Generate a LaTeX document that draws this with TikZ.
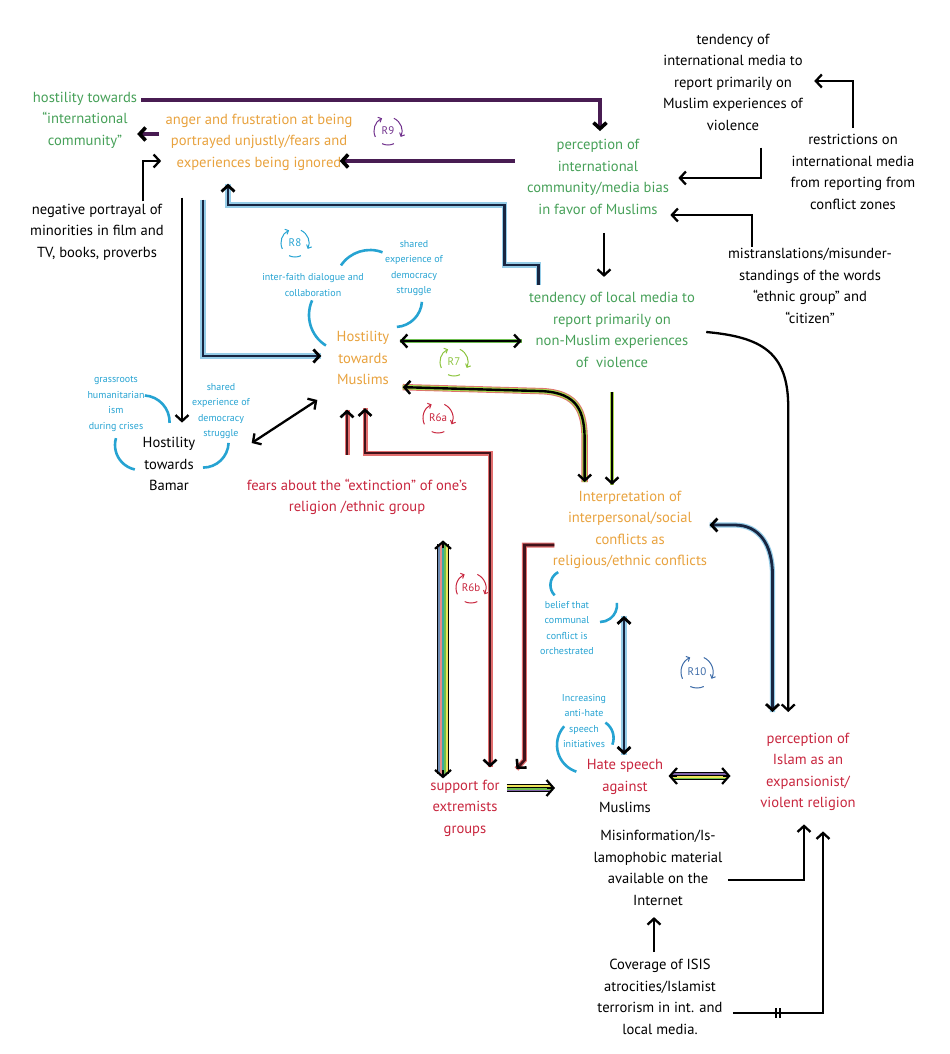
\documentclass[tikz,border=0pt]{standalone}
\usepackage{fontspec}
\setmainfont{PT Sans}
\usetikzlibrary{arrows.meta}
\definecolor{causeGreen}{RGB}{70,160,88}
\definecolor{causeOrange}{RGB}{232,162,62}
\definecolor{causeRed}{RGB}{200,38,62}
\definecolor{noteBlue}{RGB}{38,163,210}
\definecolor{loopPurple}{RGB}{112,48,140}
\definecolor{loopLime}{RGB}{140,196,62}
\definecolor{loopNavy}{RGB}{62,108,168}
\definecolor{linePurple}{RGB}{72,28,82}
\definecolor{lineNavy}{RGB}{24,38,66}
\definecolor{lineMaroon}{RGB}{66,18,26}
\definecolor{shadowBlue}{RGB}{150,205,232}
\definecolor{shadowRed}{RGB}{226,110,110}
\definecolor{shadowLime}{RGB}{170,215,80}
\definecolor{stripeYellow}{RGB}{238,228,90}
\definecolor{stripeGreen}{RGB}{110,190,80}
\definecolor{stripePurple}{RGB}{130,100,170}
\definecolor{stripeTeal}{RGB}{60,170,160}
\definecolor{stripeSlate}{RGB}{110,140,180}
\definecolor{stripePink}{RGB}{230,140,140}
\tikzstyle{causalMap} = [x=0.5pt, y=-0.5pt, >={Straight Barb[length=3pt,width=6.5pt,color=black]}]
\tikzstyle{causeText} = [inner sep=0pt, align=center, font=\fontsize{7.3}{10.75}\selectfont]
\tikzstyle{greenCause} = [causeText, text=causeGreen]
\tikzstyle{orangeCause} = [causeText, text=causeOrange]
\tikzstyle{redCause} = [causeText, text=causeRed]
\tikzstyle{noteText} = [inner sep=0pt, align=center, text=noteBlue, font=\fontsize{5}{7.7}\selectfont]
\tikzstyle{loopText} = [inner sep=0pt, font=\fontsize{5.5}{6}\selectfont]
\tikzstyle{loopArc} = [line width=0.5pt, -{Straight Barb[length=1.4pt,width=2.8pt]}]
\tikzstyle{noteArc} = [noteBlue, line width=1.3pt]
\tikzstyle{plainArrow} = [black, line width=1.15pt, ->]
\tikzstyle{purpleLink} = [linePurple, line width=1.8pt, ->]
\tikzstyle{navyLink} = [lineNavy, line width=1.4pt, ->, preaction={draw=shadowBlue, line width=2.6pt, -}]
\tikzstyle{maroonLink} = [lineMaroon, line width=1.3pt, ->, preaction={draw=shadowRed, line width=2.5pt, -}]
\tikzstyle{limeLink} = [black, line width=1.2pt, ->, preaction={draw=shadowLime, line width=2.4pt, -}]
\tikzstyle{greenLink} = [black, line width=1.2pt, <->, preaction={draw=stripeGreen, line width=2.4pt, -}]
\tikzstyle{fatTip} = [black, line width=1.1pt, -{Straight Barb[length=3.5pt,width=8pt]}]
\newcommand{\loopMark}[5]{
  \node[loopText, text=#4] (#1) at (#2) {#3};
  \draw[#4, loopArc] (#1.center) ++(205:#5) arc[start angle=205, end angle=115, radius=#5];
  \draw[#4, loopArc] (#1.center) ++(65:#5) arc[start angle=65, end angle=-25, radius=#5];
  \draw[#4, loopArc, -] (#1.center) ++(-65:#5) arc[start angle=-65, end angle=-115, radius=#5];
}
\newcommand{\stripeLink}[5]{
  \draw[black, line width=#3, shorten >=2pt, shorten <=2pt] (#1) -- (#2);
  \foreach \col/\off in {#4} {
    \draw[\col, line width=0.8pt, shorten >=2pt, shorten <=2pt, transform canvas={#5=\off pt}] (#1) -- (#2);
  }
}
\begin{document}
\begin{tikzpicture}[causalMap]
\useasboundingbox (0,0) rectangle (949,1054);

% factors
\node[greenCause] (hostInt) at (85,120) {hostility towards\\“international\\community”};
\node[orangeCause] (anger) at (259,142) {anger and frustration at being\\portrayed unjustly/fears and\\experiences being ignored};
\node[greenCause] (percInt) at (598,177) {perception of\\international\\community/media bias\\in favor of Muslims};
\node[causeText] (tendInt) at (733,82) {tendency of\\international media to\\report primarily on\\Muslim experiences of\\violence};
\node[causeText] (restrict) at (853,172) {restrictions on\\international media\\from reporting from\\conflict zones};
\node[causeText] (negPort) at (97,232) {negative portrayal of\\minorities in film and\\TV, books, proverbs};
\node[causeText] (mistrans) at (810,286) {mistranslations/misunder-\\standings of the words\\“ethnic group” and\\“citizen”};
\node[greenCause] (tendLocal) at (612,330) {tendency of local media to\\report primarily on\\non-Muslim experiences\\of \ violence};
\node[orangeCause] (hostMus) at (363,358) {Hostility\\towards\\Muslims};
\node[causeText] (hostBamar) at (169,464) {Hostility\\towards\\Bamar};
\node[redCause] (fears) at (357,497) {fears about the “extinction” of one’s\\religion /ethnic group};
\node[orangeCause] (interp) at (630,530) {Interpretation of\\interpersonal/social\\conflicts as\\religious/ethnic conflicts};
\node[redCause] (support) at (465,808) {support for\\extremists\\groups};
\node[redCause] (hate) at (625,786) {Hate speech\\against\\\textcolor{black}{Muslims}};
\node[redCause] (islam) at (808,772) {perception of\\Islam as an\\expansionist/\\violent religion};
\node[causeText] (misinfo) at (658,868) {Misinformation/Is-\\lamophobic material\\available on the\\Internet};
\node[causeText] (coverage) at (660,997) {Coverage of ISIS\\atrocities/Islamist\\terrorism in int. and\\local media.};

% balancing notes
\node[noteText] (interfaith) at (313,285) {inter-faith dialogue and\\collaboration};
\node[noteText] (sharedMus) at (414,268) {shared\\experience of\\democracy\\struggle};
\node[noteText] (grassroots) at (116,404) {grassroots\\humanitarian\\ism\\during crises};
\node[noteText] (sharedBamar) at (221,411) {shared\\experience of\\democracy\\struggle};
\node[noteText] (belief) at (567,628) {belief that\\communal\\conflict is\\orchestrated};
\node[noteText] (antiHate) at (584,721) {Increasing\\anti-hate\\speech\\initiatives};

\draw[noteArc] ([shift={(-18,-43)}]hostMus.center) ++(238:18pt) arc[start angle=238, end angle=156, radius=18pt];
\draw[noteArc] ([shift={(7,-73)}]hostMus.center) ++(146:17.5pt) arc[start angle=146, end angle=69, radius=17.5pt];
\draw[noteArc] ([shift={(32,-58)}]hostMus.center) ++(274:13.5pt) arc[start angle=274, end angle=356, radius=13.5pt];
\draw[noteArc] ([shift={(-26,-42)}]hostBamar.center) ++(86:13.3pt) arc[start angle=86, end angle=-2, radius=13.3pt];
\draw[noteArc] ([shift={(-29,-19)}]hostBamar.center) ++(164:12.5pt) arc[start angle=164, end angle=258, radius=12.5pt];
\draw[noteArc] ([shift={(34,-22)}]hostBamar.center) ++(-2:12.8pt) arc[start angle=-2, end angle=-90, radius=12.8pt];
\draw[noteArc] ([shift={(-2,-43)}]belief.center) ++(118:7.3pt) arc[start angle=118, end angle=225, radius=7.3pt];
\draw[noteArc] ([shift={(33,-23)}]belief.center) ++(7:8.5pt) arc[start angle=7, end angle=-90, radius=8.5pt];
\draw[noteArc] ([shift={(1,24)}]antiHate.center) ++(138:14pt) arc[start angle=138, end angle=252, radius=14pt];
\draw[noteArc] ([shift={(11,17)}]antiHate.center) ++(56:9.3pt) arc[start angle=56, end angle=-21, radius=9.3pt];

% loops
\loopMark{loopNine}{388,131}{R9}{loopPurple}{7pt}
\loopMark{loopEight}{295,243}{R8}{noteBlue}{7pt}
\loopMark{loopSeven}{454,362}{R7}{loopLime}{7pt}
\loopMark{loopSixA}{438,418}{R6a}{causeRed}{7.5pt}
\loopMark{loopSixB}{471,588}{R6b}{causeRed}{7.5pt}
\loopMark{loopTen}{697,672}{R10}{loopNavy}{8pt}

% top links
\draw[purpleLink] ([shift={(4,-20)}]hostInt.east) -| ([shift={(2,-8)}]percInt.north);
\draw[purpleLink] ([shift={(-6,-8)}]anger.west) -- ++(-22,0);
\draw[purpleLink] ([shift={(-12,-16)}]percInt.west) -- ++(-175,0);
\draw[plainArrow] ([shift={(46,-2)}]negPort.north) |- ([shift={(-4,19)}]anger.west);
\draw[plainArrow] ([shift={(28,17)}]tendInt.south) |- ([shift={(9,1)}]percInt.east);
\draw[plainArrow] ([shift={(0,-6)}]restrict.north) |- ([shift={(11,-1)}]tendInt.east);
\draw[plainArrow] ([shift={(-58,-1)}]mistrans.north) |- ([shift={(1,38)}]percInt.east);
\draw[plainArrow] ([shift={(6,18)}]percInt.south) -- ++(0,44);

% middle links
\draw[navyLink] ([shift={(10,-7)}]tendLocal.north west) -- ++(0,-20) -- ++(-34,0) -- ++(0,-60) -| ([shift={(-31,13)}]anger.south);
\draw[navyLink] ([shift={(-56,29)}]anger.south) |- ([shift={(-15,-2)}]hostMus.west);
\draw[plainArrow] ([shift={(-77,27)}]anger.south) -- ++(0,225);
\draw[greenLink] ([shift={(10,-17)}]hostMus.east) -- ++(122,0);
\draw[black, line width=1.2pt, <->, preaction={draw=shadowRed, line width=3.2pt, -}, preaction={draw=shadowLime, line width=2.3pt, -}]
  ([shift={(13,2)}]hostMus.south east) -- ++(140,4) .. controls +(35,2) and +(0,-30) .. ++(42,50) -- ++(0,41);
\draw[limeLink] ([shift={(0,24)}]tendLocal.south) -- ++(0,93);
\draw[plainArrow, <->] ([shift={(56,-21)}]hostBamar.east) -- ([shift={(-19,42)}]hostMus.west);
\draw[maroonLink] ([shift={(-10,-24)}]fears.north) -- ++(0,-45);
\draw[maroonLink, <->] ([shift={(2,23)}]hostMus.south) -- ++(0,45) -| ([shift={(25,-12)}]support.north);
\draw[maroonLink] ([shift={(2,15)}]interp.west) -- ++(-30,0) -- ++(0,215) -- ++(-8,9);

% striped links
\coordinate (fearsEnd) at ([shift={(86,25)}]fears.south);
\coordinate (supportEnd) at ([shift={(0,238)}]fearsEnd);
\stripeLink{fearsEnd}{supportEnd}{6pt}{stripeSlate/-2, stripePink/-1, stripeTeal/0, stripeGreen/1, stripeYellow/2}{xshift}
\draw[fatTip] ([yshift=-4pt]fearsEnd) -- (fearsEnd);
\draw[fatTip] ([yshift=4pt]supportEnd) -- (supportEnd);
\coordinate (supportOut) at ([shift={(3,-20)}]support.east);
\coordinate (hateIn) at ([shift={(52,0)}]supportOut);
\stripeLink{supportOut}{hateIn}{3.6pt}{stripeYellow/1.1, stripeGreen/-0.4, stripePurple/-1.3}{yshift}
\draw[fatTip] ([xshift=-4pt]hateIn) -- (hateIn);
\coordinate (hateOut) at ([shift={(5,-10)}]hate.east);
\coordinate (islamIn) at ([shift={(62,0)}]hateOut);
\stripeLink{hateOut}{islamIn}{3.6pt}{stripePurple/1.1, stripeYellow/-0.5, stripeGreen/-1.3}{yshift}
\draw[fatTip] ([xshift=4pt]hateOut) -- (hateOut);
\draw[fatTip] ([xshift=-4pt]islamIn) -- (islamIn);

% lower links
\draw[navyLink, <->] ([shift={(-1,-4)}]hate.north) -- ++(0,-139);
\draw[navyLink, <->] ([shift={(2,-5)}]interp.east) -- ++(25,0) .. controls +(25,0) and +(0,-30) .. ++(38,50) -- ++(0,137);
\draw[plainArrow] ([shift={(11,2)}]tendLocal.east) .. controls +(55,5) and +(0,-55) .. ++(82,75) -- ++(0,305);
\draw[plainArrow] ([shift={(5,12)}]misinfo.east) -| ([shift={(-4,13)}]islam.south);
\draw[plainArrow] ([shift={(10,16)}]coverage.east) -| coordinate[pos=0.25] (delayMark) ([shift={(15,20)}]islam.south);
\draw[black, line width=1pt] ([shift={(-2,-5)}]delayMark) -- ++(0,10) ([shift={(2,-5)}]delayMark) -- ++(0,10);
\draw[plainArrow] ([shift={(-6,-7)}]coverage.north) -- ++(0,-35);
\end{tikzpicture}
\end{document}
